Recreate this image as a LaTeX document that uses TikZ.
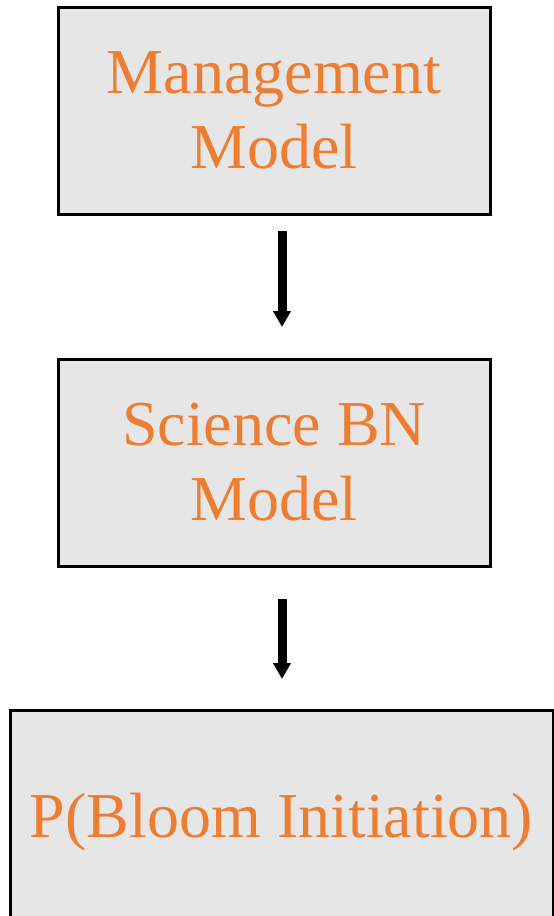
\documentclass[tikz,border=0pt]{standalone}
\usepackage{fontspec}
\setmainfont{Liberation Serif}
\usetikzlibrary{arrows.meta}
\definecolor{boxorange}{HTML}{ED7D31}
\definecolor{boxgray}{HTML}{E6E6E6}
\tikzset{
  stagebox/.style={draw=black, line width=3pt, fill=boxgray, text=boxorange,
    align=center, inner sep=0pt, font=\fontsize{64}{75}\selectfont},
  flowarrow/.style={line width=9pt, -{Triangle[width=17pt,length=16pt]}}
}
\begin{document}
\begin{tikzpicture}[x=1pt,y=1pt]
\clip (0,0) rectangle (554,-916);
\useasboundingbox (0,0) rectangle (554,-916);
\node[stagebox, minimum width=432pt, minimum height=207pt] (mgmt) at (274,-110.5){Management\\Model};
\node[stagebox, minimum width=432pt, minimum height=207pt] (science) at (274,-462.5){Science BN\\Model};
\node[stagebox, minimum width=543pt, minimum height=224pt] (bloom) at (281.5,-822){P(Bloom Initiation)};
\coordinate (a1s) at (282,-231);
\coordinate (a1e) at (282,-327);
\coordinate (a2s) at (282,-599);
\coordinate (a2e) at (282,-679);
\draw[flowarrow](a1s) -- (a1e);
\draw[flowarrow](a2s) -- (a2e);
\end{tikzpicture}
\end{document}
